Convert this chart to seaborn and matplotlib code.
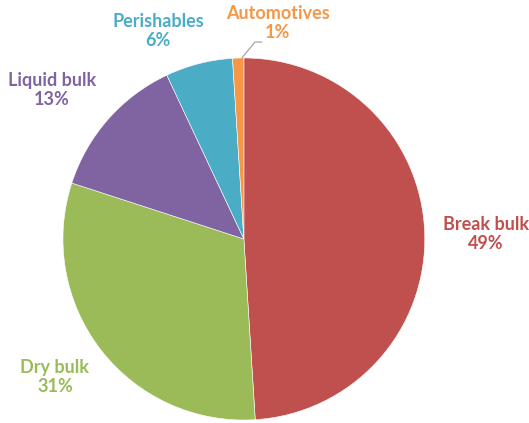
import numpy as np
import seaborn as sns
import matplotlib.pyplot as plt

sns.set_style("white")
plt.rcParams['font.family'] = ['Lato', 'DejaVu Sans']

# cargo shares, clockwise from 12 o'clock
categories = ['Break bulk', 'Dry bulk', 'Liquid bulk', 'Perishables', 'Automotives']
shares = [49, 31, 13, 6, 1]
colors = ['#C0504D', '#9BBB59', '#8064A2', '#4BACC6', '#F79646']

fig = plt.figure(figsize=(5.29, 4.23), dpi=100)
ax = fig.add_axes([0.119, 0.007, 0.684, 0.856])

wedges, _ = ax.pie(shares, colors=colors, startangle=90, counterclock=False,
                   wedgeprops=dict(linewidth=0.4, edgecolor='white'))
ax.set_xlim(-1, 1)
ax.set_ylim(-1, 1)
ax.set_aspect('auto')
ax.axis('off')

# label spots (data units, pie radius = 1)
label_pos = {
    'Break bulk': (1.337, 0.028),
    'Dry bulk': (-1.044, -0.762),
    'Liquid bulk': (-1.061, 0.823),
    'Perishables': (-0.475, 1.149),
    'Automotives': (0.188, 1.193),
}

for name, val, col in zip(categories, shares, colors):
    x, y = label_pos[name]
    ax.text(x, y, f'{name}\n{val}%', color=col, fontsize=13, fontweight='bold',
            ha='center', va='center', linespacing=1.2, clip_on=False)

# leader line for the tiny slice
ax.plot([-0.011, 0.061, 0.099], [1.0, 1.088, 1.088], color='#A6A6A6', lw=0.9,
        clip_on=False)

fig.savefig('out.png', dpi=100)
